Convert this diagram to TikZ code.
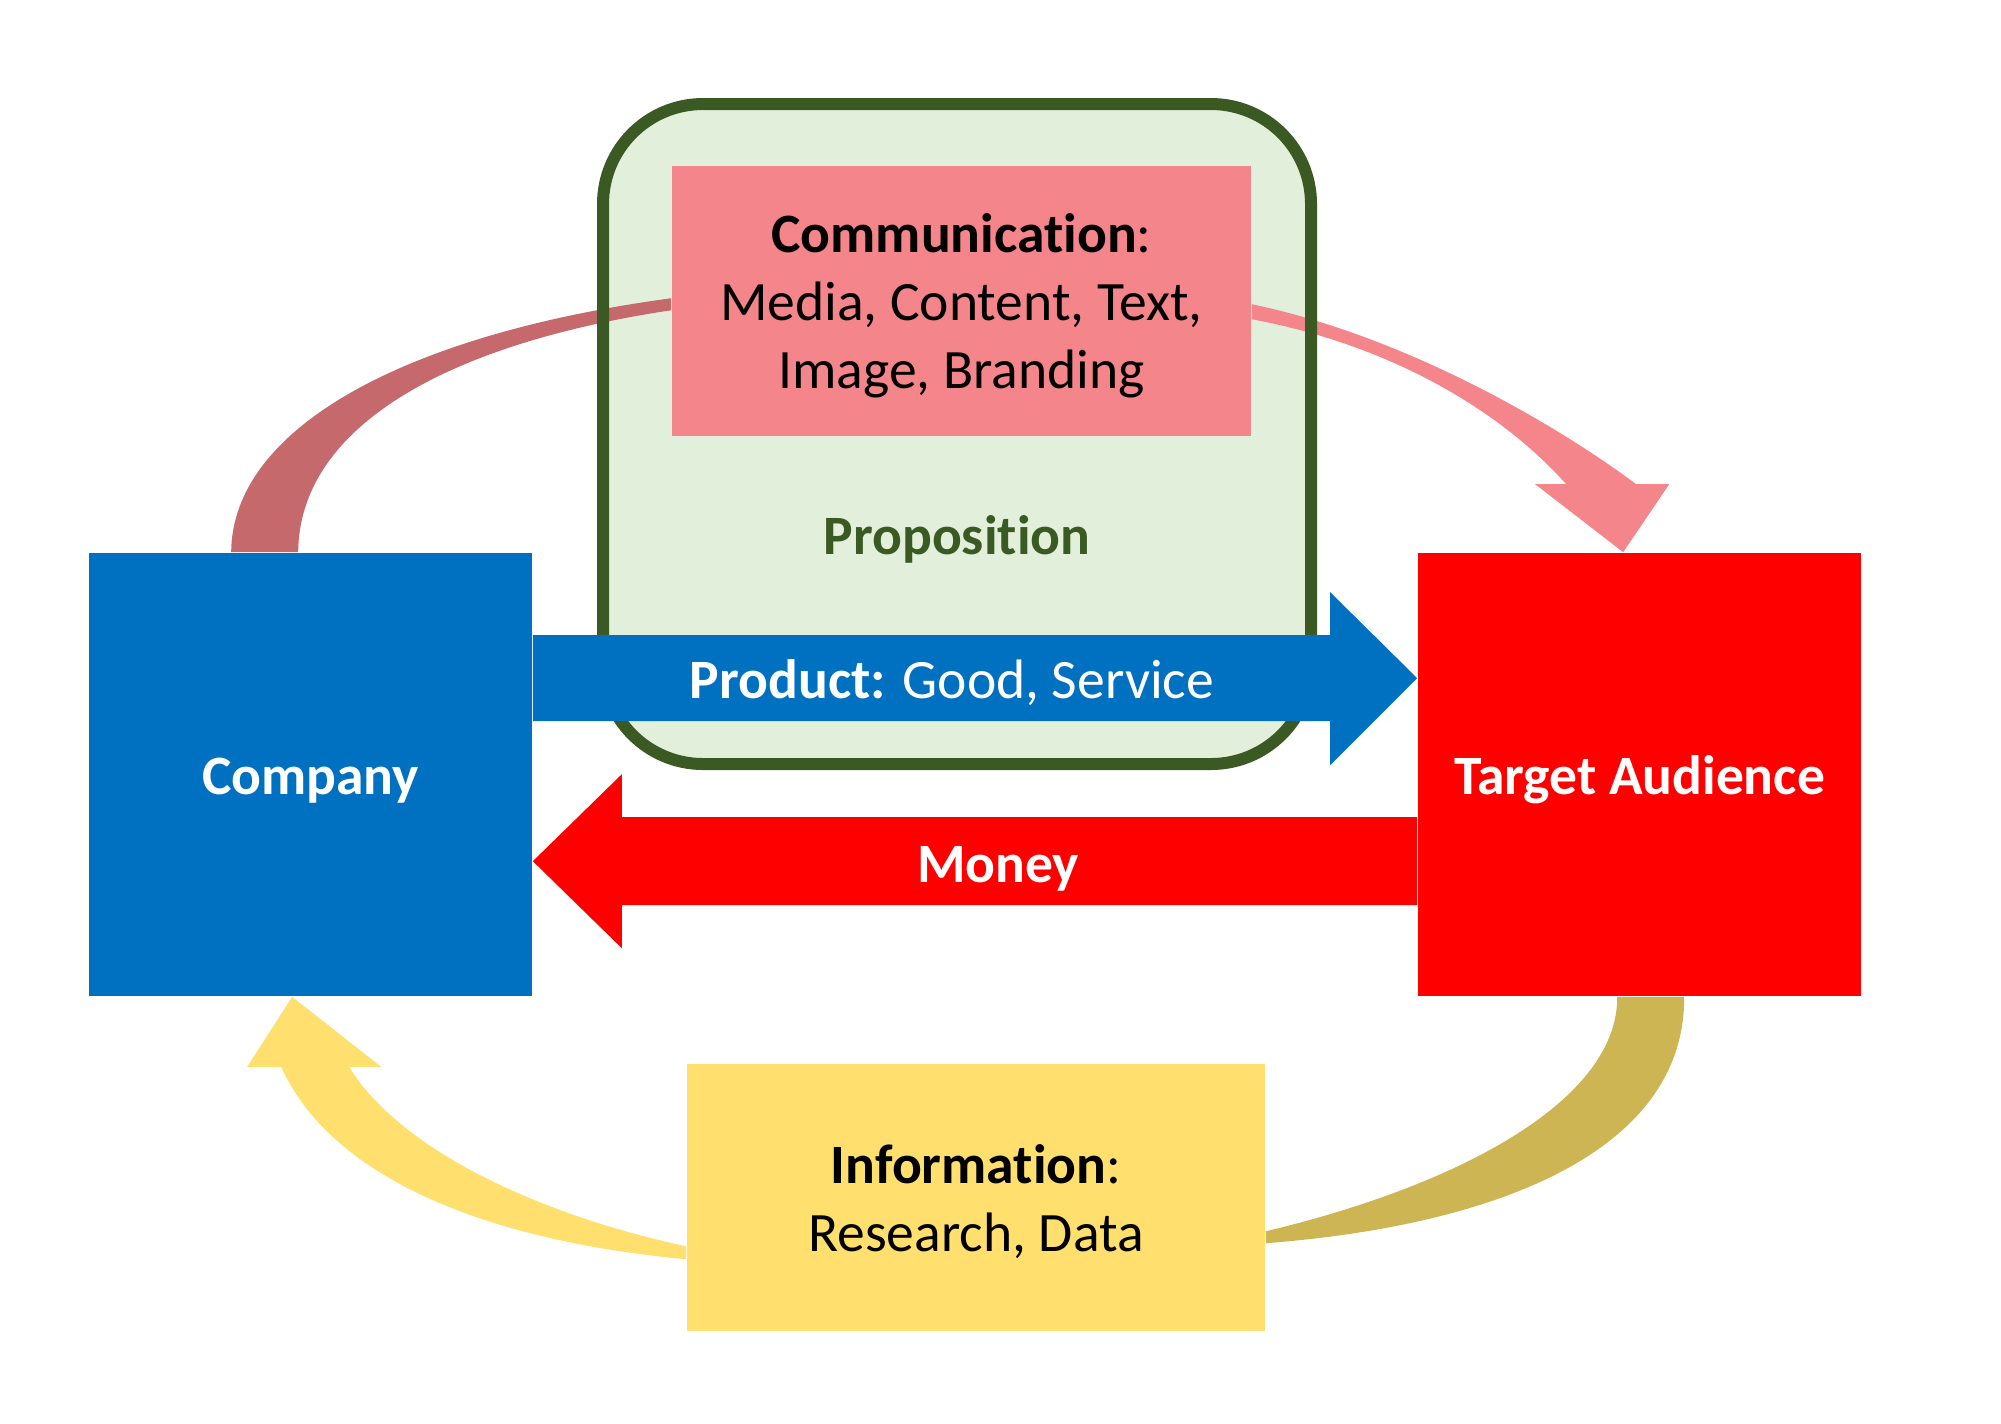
\documentclass[tikz,border=0pt]{standalone}
\usepackage{fontspec}
\setmainfont{Carlito}[Ligatures=CommonOff]
\usetikzlibrary{calc}

\definecolor{compblue}{HTML}{0070C0}
\definecolor{audred}{HTML}{FF0000}
\definecolor{commpink}{HTML}{F4858A}
\definecolor{tailpink}{HTML}{C5696C}
\definecolor{propfill}{HTML}{E2EFDA}
\definecolor{propline}{HTML}{3B5A23}
\definecolor{infoyellow}{HTML}{FFDF6D}
\definecolor{tailolive}{HTML}{CEB554}

% text a little lower in its box, as in the original
\newcommand\lowtext[1]{\raisebox{-0.06cm}[\height][\depth]{\begin{tabular}{@{}c@{}}#1\end{tabular}}}

\tikzset{
  txt/.style={font=\fontsize{15.8}{19.3}\selectfont},
  box/.style={rectangle, inner sep=0pt, align=center, txt},
  bigbox/.style={box, minimum width=4.43cm, minimum height=4.43cm, text=white, font=\fontsize{15.8}{19.3}\selectfont\bfseries},
  arrowtext/.style={txt, text=white, inner sep=0pt}
}

\begin{document}
\begin{tikzpicture}[x=0.01cm,y=-0.01cm]
\useasboundingbox (0,0) rectangle (2001,1423);

% proposition frame, filled first
\fill[propfill,rounded corners=1cm] (603,104) rectangle (1311,764);

\node[bigbox, fill=compblue] (company) at (310.5,774.5) {\lowtext{Company}};
\node[bigbox, fill=audred] (target) at (1639.5,774.5) {\lowtext{Target Audience}};
\node[box, fill=commpink, minimum width=5.79cm, minimum height=2.70cm] (comm) at (961.5,301)
  {\lowtext{\textbf{Communication}:\\Media, Content, Text,\\Image, Branding}};
\node[box, fill=infoyellow, minimum width=5.78cm, minimum height=2.67cm] (info) at (976,1197.5)
  {\lowtext{\textbf{Information}:\\Research, Data}};

% curved arrows
\fill[tailpink] ($(company.north west)+(143,0)$) .. controls (232,430) and (400,335) .. ($(comm.north west)+(0,133)$)
  -- ($(comm.north west)+(0,145)$) .. controls (440,345) and (299,430) .. ($(company.north west)+(210,0)$) -- cycle;

\fill[commpink] ($(comm.north east)+(0,139)$) .. controls (1400,335) and (1550,420) .. ($(target.north west)+(219,-68)$)
  -- ($(target.north west)+(252,-68)$) -- ($(target.north west)+(206,0)$) -- ($(target.north west)+(118,-68)$)
  -- ($(target.north west)+(149,-68)$) .. controls (1500,410) and (1390,345) .. ($(comm.north east)+(0,154)$) -- cycle;

\fill[tailolive] ($(target.south west)+(267,0)$) .. controls (1685,1150) and (1500,1225) .. ($(info.north east)+(0,180)$)
  -- ($(info.north east)+(0,168)$) .. controls (1460,1185) and (1618,1100) .. ($(target.south west)+(200,0)$) -- cycle;

\fill[infoyellow] ($(info.north west)+(0,196)$) .. controls (480,1240) and (330,1175) .. ($(company.south west)+(193,70)$)
  -- ($(company.south west)+(159,70)$) -- ($(company.south west)+(204,0)$) -- ($(company.south west)+(293,70)$)
  -- ($(company.south west)+(261,70)$) .. controls (400,1150) and (540,1215) .. ($(info.north west)+(0,183)$) -- cycle;

% frame border over the curves
\draw[propline, line width=0.12cm, rounded corners=1cm] (603,104) rectangle (1311,764);

% product and money
\fill[compblue] ($(company.north east)+(0,83)$) -- ($(target.north west)+(-87,83)$) -- ($(target.north west)+(-87,40)$)
  -- ($(target.north west)+(0,126)$) -- ($(target.north west)+(-87,213)$) -- ($(target.north west)+(-87,169)$)
  -- ($(company.north east)+(0,169)$) -- cycle;
\fill[audred] ($(target.north west)+(0,265)$) -- ($(company.north east)+(89,265)$) -- ($(company.north east)+(89,222)$)
  -- ($(company.north east)+(0,309)$) -- ($(company.north east)+(89,396)$) -- ($(company.north east)+(89,353)$)
  -- ($(target.north west)+(0,353)$) -- cycle;

\node[arrowtext] (product) at (952,683) {\textbf{Product:} Good, Service};
\node[arrowtext, font=\fontsize{15.8}{19.3}\selectfont\bfseries] (money) at (998,869) {Money};
\node[txt, text=propline, font=\fontsize{15.8}{19.3}\selectfont\bfseries] (prop) at (957,539) {Proposition};
\end{tikzpicture}
\end{document}
